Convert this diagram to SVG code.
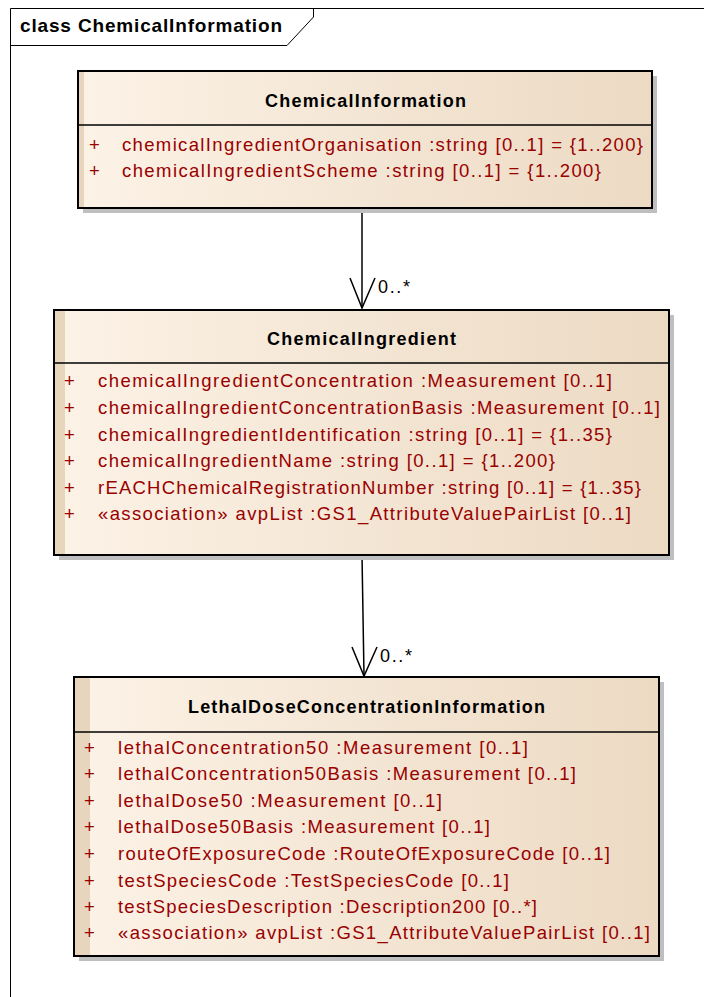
<svg xmlns="http://www.w3.org/2000/svg" width="704" height="997" viewBox="0 0 704 997">
<style>
.frame{fill:none;stroke:#000;stroke-width:1}
.box{stroke:#000;stroke-width:2;fill:url(#g)}
.shadow{fill:#bfbfbf}
.strip{fill:#e8d5bd}
.div{stroke:#000;stroke-width:1.5}
.title{font-family:"Liberation Sans",Arial,sans-serif;font-weight:bold;font-size:18px;fill:#000}
.attr{font-family:"Liberation Sans",Arial,sans-serif;font-size:18.5px;fill:#990000}
.lbl{font-family:"Liberation Sans",Arial,sans-serif;font-size:18px;fill:#000}
.conn{stroke:#000;stroke-width:1.5;fill:none}
</style>
<defs>
<linearGradient id="g" x1="0" y1="0" x2="1" y2="0">
<stop offset="0" stop-color="#fcf2e6"/>
<stop offset="1" stop-color="#ecdac3"/>
</linearGradient>
</defs>
<rect x="0" y="0" width="704" height="997" fill="#fff"/>
<g id="frame">
<path class="frame" d="M10.5,997 V8.5 H704"/>
<path class="frame" d="M10.5,45.5 H287 L313.5,17 V8.5"/>
<text x="20" y="32" font-family="Liberation Sans,Arial,sans-serif" font-weight="bold" font-size="19px" textLength="262" lengthAdjust="spacing">class ChemicalInformation</text>
</g>
<g id="connectors">
<line class="conn" x1="362" y1="209" x2="362" y2="308"/>
<polyline class="conn" points="350,278 362,308 375,278"/>
<text class="lbl" x="378" y="293" textLength="32" lengthAdjust="spacing">0..*</text>
<line class="conn" x1="362" y1="555" x2="364" y2="676"/>
<polyline class="conn" points="352,647 364,676 377,647"/>
<text class="lbl" x="380" y="662" textLength="32" lengthAdjust="spacing">0..*</text>
</g>
<g id="ChemicalInformation">
<rect class="shadow" x="83" y="76" width="574" height="137"/>
<rect class="box" x="78" y="71" width="574" height="137"/>
<rect class="strip" x="79" y="72" width="5" height="135"/>
<line class="div" x1="78" y1="125" x2="652" y2="125"/>
<text class="title" x="265" y="107" textLength="201" lengthAdjust="spacing">ChemicalInformation</text>
<text class="attr" x="89" y="151">+</text>
<text class="attr" x="122" y="151" textLength="521" lengthAdjust="spacing">chemicalIngredientOrganisation  :string [0..1] = {1..200}</text>
<text class="attr" x="89" y="177">+</text>
<text class="attr" x="122" y="177" textLength="479" lengthAdjust="spacing">chemicalIngredientScheme  :string [0..1] = {1..200}</text>
</g>
<g id="ChemicalIngredient">
<rect class="shadow" x="59" y="315" width="615" height="245"/>
<rect class="box" x="54" y="310" width="615" height="245"/>
<rect class="strip" x="55" y="311" width="10" height="243"/>
<line class="div" x1="54" y1="363" x2="669" y2="363"/>
<text class="title" x="267" y="345" textLength="189" lengthAdjust="spacing">ChemicalIngredient</text>
<text class="attr" x="64" y="387">+</text>
<text class="attr" x="98" y="387" textLength="514" lengthAdjust="spacing">chemicalIngredientConcentration  :Measurement [0..1]</text>
<text class="attr" x="64" y="414">+</text>
<text class="attr" x="98" y="414" textLength="562" lengthAdjust="spacing">chemicalIngredientConcentrationBasis  :Measurement [0..1]</text>
<text class="attr" x="64" y="441">+</text>
<text class="attr" x="98" y="441" textLength="514" lengthAdjust="spacing">chemicalIngredientIdentification  :string [0..1] = {1..35}</text>
<text class="attr" x="64" y="467">+</text>
<text class="attr" x="98" y="467" textLength="457" lengthAdjust="spacing">chemicalIngredientName  :string [0..1] = {1..200}</text>
<text class="attr" x="64" y="494">+</text>
<text class="attr" x="98" y="494" textLength="543" lengthAdjust="spacing">rEACHChemicalRegistrationNumber  :string [0..1] = {1..35}</text>
<text class="attr" x="64" y="520">+</text>
<text class="attr" x="98" y="520" textLength="533" lengthAdjust="spacing">«association» avpList  :GS1_AttributeValuePairList [0..1]</text>
</g>
<g id="LethalDoseConcentrationInformation">
<rect class="shadow" x="79" y="682" width="585" height="279"/>
<rect class="box" x="74" y="677" width="585" height="279"/>
<rect class="strip" x="75" y="678" width="15" height="277"/>
<line class="div" x1="74" y1="732" x2="659" y2="732"/>
<text class="title" x="188" y="713" textLength="357" lengthAdjust="spacing">LethalDoseConcentrationInformation</text>
<text class="attr" x="84" y="754">+</text>
<text class="attr" x="118" y="754" textLength="410" lengthAdjust="spacing">lethalConcentration50  :Measurement [0..1]</text>
<text class="attr" x="84" y="780">+</text>
<text class="attr" x="118" y="780" textLength="458" lengthAdjust="spacing">lethalConcentration50Basis  :Measurement [0..1]</text>
<text class="attr" x="84" y="807">+</text>
<text class="attr" x="118" y="807" textLength="324" lengthAdjust="spacing">lethalDose50  :Measurement [0..1]</text>
<text class="attr" x="84" y="833">+</text>
<text class="attr" x="118" y="833" textLength="372" lengthAdjust="spacing">lethalDose50Basis  :Measurement [0..1]</text>
<text class="attr" x="84" y="860">+</text>
<text class="attr" x="118" y="860" textLength="492" lengthAdjust="spacing">routeOfExposureCode  :RouteOfExposureCode [0..1]</text>
<text class="attr" x="84" y="887">+</text>
<text class="attr" x="118" y="887" textLength="391" lengthAdjust="spacing">testSpeciesCode  :TestSpeciesCode [0..1]</text>
<text class="attr" x="84" y="913">+</text>
<text class="attr" x="118" y="913" textLength="419" lengthAdjust="spacing">testSpeciesDescription  :Description200 [0..*]</text>
<text class="attr" x="84" y="939">+</text>
<text class="attr" x="118" y="939" textLength="532" lengthAdjust="spacing">«association» avpList  :GS1_AttributeValuePairList [0..1]</text>
</g>
</svg>
